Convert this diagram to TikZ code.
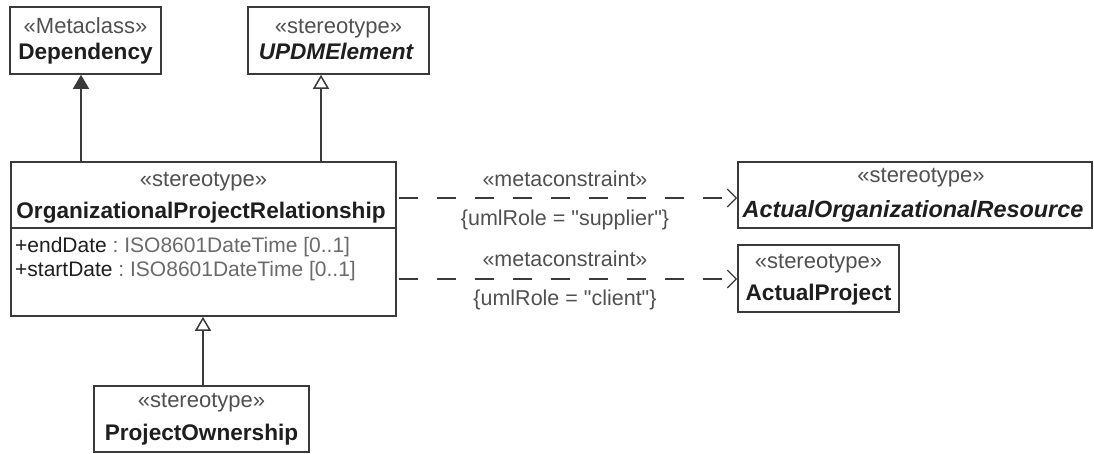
\documentclass[tikz,border=0pt]{standalone}
\usepackage{fontspec}
\setmainfont{Liberation Sans}[Ligatures=TeXOff]
\usetikzlibrary{arrows.meta}
\definecolor{ln}{HTML}{3A3A3A}
\definecolor{tx}{HTML}{1E1E1E}
\definecolor{st}{HTML}{505050}
\definecolor{ty}{HTML}{6A6A6A}
\newcommand{\stfont}{\fontsize{22}{26}\selectfont\color{st}}
\newcommand{\nmfont}{\fontsize{22.6}{26}\selectfont\bfseries\color{tx}}
\newcommand{\atfont}{\fontsize{21}{25}\selectfont}
\newcommand{\lbfont}{\fontsize{21.5}{25}\selectfont\color{st}}
\begin{document}
\begin{tikzpicture}[x=1pt,y=-1pt,
  umlbox/.style={draw=ln,line width=1.6pt,fill=white,rectangle,inner sep=0pt},
  txt/.style={inner sep=0pt,anchor=base},
  gen/.style={draw=ln,line width=1.5pt,-{Triangle[open,width=16pt,length=14pt,fill=white]}},
  genfill/.style={draw=ln,line width=1.5pt,-{Triangle[width=16pt,length=14pt,fill=ln]}},
  metadep/.style={draw=ln,line width=1.3pt,dash pattern=on 19pt off 19pt,-{Straight Barb[length=9pt,width=18pt]}}
]
\useasboundingbox (0,0) rectangle (1094,453);

% boxes
\node[umlbox,minimum width=151pt,minimum height=67pt] (dep) at (85.5,40.5) {};
\node[umlbox,minimum width=181pt,minimum height=67pt] (updm) at (338.5,40.5) {};
\node[umlbox,minimum width=385pt,minimum height=154pt] (main) at (203.5,239) {};
\node[umlbox,minimum width=354pt,minimum height=66pt] (aor) at (915,195) {};
\node[umlbox,minimum width=161pt,minimum height=67pt] (ap) at (818.5,278.5) {};
\node[umlbox,minimum width=215pt,minimum height=66pt] (po) at (201.5,419) {};

\draw[ln,line width=1.6pt] (main.west |- 0,228) -- (main.east |- 0,228);

% texts
\node[txt] (depst) at (85.5,33) {\stfont «Metaclass»};
\node[txt] (depnm) at (85.5,59) {\nmfont Dependency};
\node[txt] (updmst) at (338.5,33) {\stfont «stereotype»};
\node[txt] (updmnm) at (336,59) {\nmfont\itshape UPDMElement};
\node[txt] (mainst) at (203.5,186) {\stfont «stereotype»};
\node[txt] (mainnm) at (201,218) {\nmfont OrganizationalProjectRelationship};
\node[txt,anchor=base west] (attr1) at (15,252) {\atfont\color{tx}+endDate\ \color{ty}:\ ISO8601DateTime [0..1]};
\node[txt,anchor=base west] (attr2) at (15,276) {\atfont\color{tx}+startDate\ \color{ty}:\ ISO8601DateTime [0..1]};
\node[txt] (aorst) at (921,182) {\stfont «stereotype»};
\node[txt] (aornm) at (913,217) {\fontsize{23.4}{27}\selectfont\bfseries\itshape\color{tx}ActualOrganizationalResource};
\node[txt] (apst) at (818.5,268) {\stfont «stereotype»};
\node[txt] (apnm) at (818.5,300) {\nmfont ActualProject};
\node[txt] (post) at (201.5,407) {\stfont «stereotype»};
\node[txt] (ponm) at (201.5,440) {\nmfont ProjectOwnership};

% connectors
\draw[genfill] (main.north -| 81,0) -- (dep.south -| 81,0);
\draw[gen] (main.north -| 321,0) -- (updm.south -| 321,0);
\draw[gen] (po.north -| 203,0) -- (main.south -| 203,0);

\draw[metadep] ([xshift=2pt]main.east |- 0,198) -- (aor.west |- 0,198);
\draw[metadep] ([xshift=2pt]main.east |- 0,279) -- (ap.west |- 0,279);

\node[txt] (l1a) at (565,186) {\lbfont «metaconstraint»};
\node[txt] (l1b) at (565,225) {\lbfont \{umlRole = "supplier"\}};
\node[txt] (l2a) at (565,266) {\lbfont «metaconstraint»};
\node[txt] (l2b) at (565,305) {\lbfont \{umlRole = "client"\}};
\end{tikzpicture}
\end{document}
